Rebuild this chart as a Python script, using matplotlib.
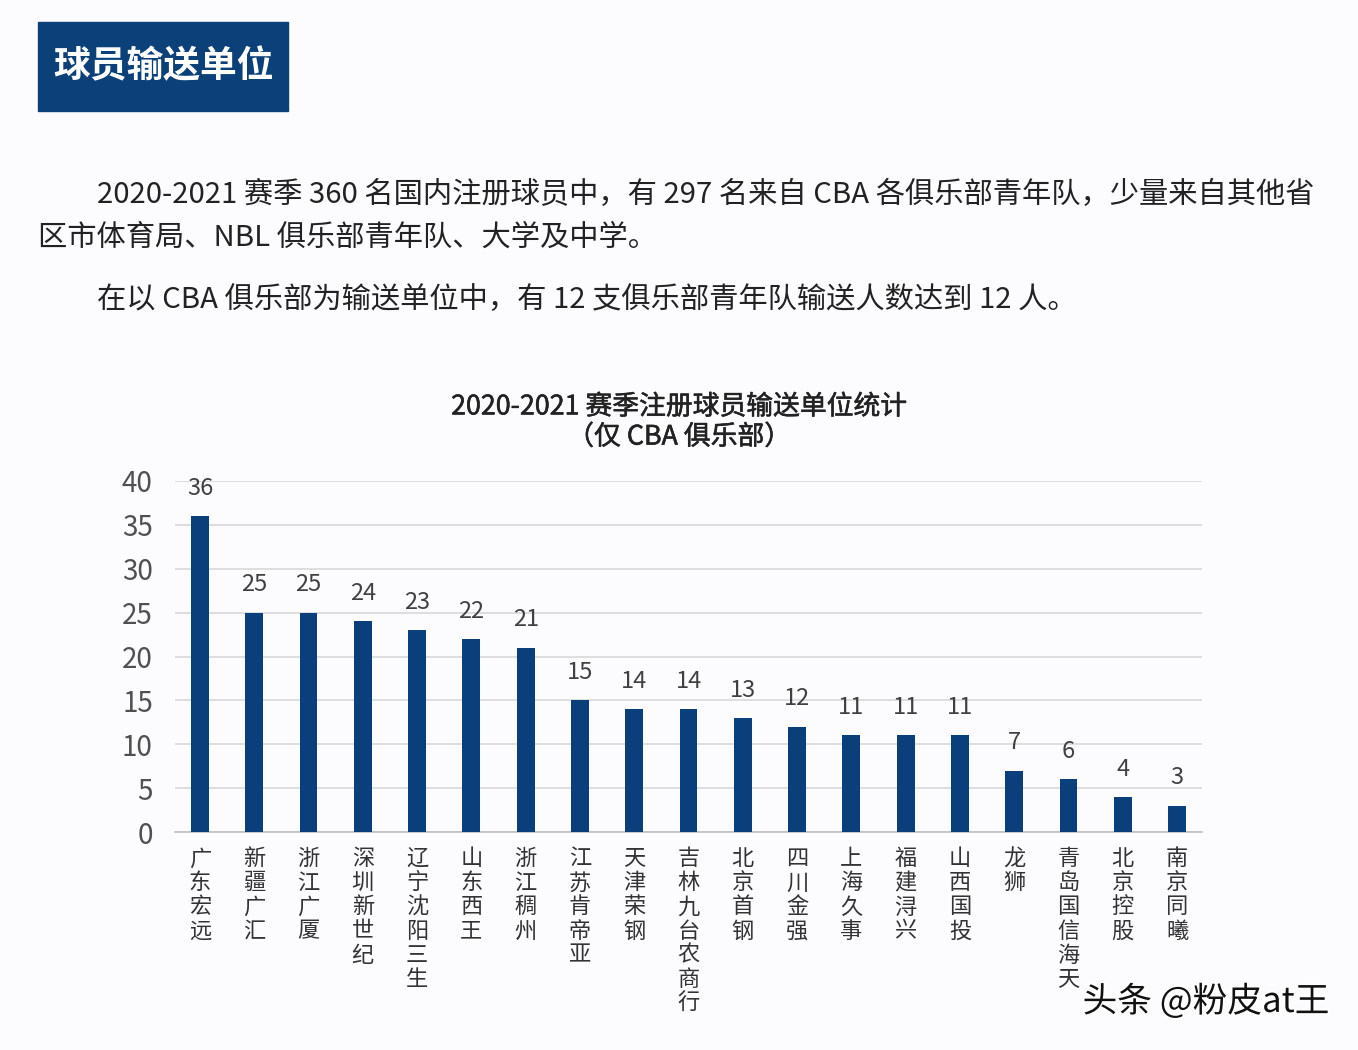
import matplotlib
matplotlib.use('Agg')
import matplotlib.pyplot as plt
import matplotlib.patheffects as pe
from matplotlib.patches import Rectangle

plt.rcParams['font.family'] = ['Noto Sans CJK SC', 'DejaVu Sans']

# 数据
clubs = ['广东宏远', '新疆广汇', '浙江广厦', '深圳新世纪', '辽宁沈阳三生', '山东西王',
         '浙江稠州', '江苏肯帝亚', '天津荣钢', '吉林九台农商行', '北京首钢', '四川金强',
         '上海久事', '福建浔兴', '山西国投', '龙狮', '青岛国信海天', '北京控股', '南京同曦']
players = [36, 25, 25, 24, 23, 22, 21, 15, 14, 14, 13, 12, 11, 11, 11, 7, 6, 4, 3]
y_ticks = [0, 5, 10, 15, 20, 25, 30, 35, 40]

header = '球员输送单位'
para1 = '2020-2021 赛季 360 名国内注册球员中，有 297 名来自 CBA 各俱乐部青年队，少量来自其他省'
para2 = '区市体育局、NBL 俱乐部青年队、大学及中学。'
para3 = '在以 CBA 俱乐部为输送单位中，有 12 支俱乐部青年队输送人数达到 12 人。'
chart_title = '2020-2021 赛季注册球员输送单位统计\n（仅 CBA 俱乐部）'
watermark = '头条 @粉皮at王'

bg = '#fcfcfe'
bar_color = '#0b3f7b'

fig = plt.figure(figsize=(13.58, 10.5), dpi=100, facecolor=bg)

# 标题框
fig.patches.append(Rectangle((38 / 1358, 1 - 111 / 1050), 250 / 1358, 89 / 1050,
                             transform=fig.transFigure, color='#0c4079', zorder=0))
fig.text(163 / 1358, 1 - 67 / 1050, header, color='white', fontsize=26.5,
         fontweight='bold', ha='center', va='center')

# 正文
fig.text(97 / 1358, 1 - 195 / 1050, para1, fontsize=21.1, color='#222222', va='center')
fig.text(38 / 1358, 1 - 238 / 1050, para2, fontsize=21.1, color='#222222', va='center')
fig.text(97 / 1358, 1 - 300 / 1050, para3, fontsize=21.1, color='#222222', va='center')

# 图表标题（中等粗细：常规字重加一点描边）
fig.text(679 / 1358, 1 - 422 / 1050, chart_title, fontsize=19.3, color='#222222',
         ha='center', va='center', linespacing=1.15,
         path_effects=[pe.withStroke(linewidth=0.4, foreground='#222222')])

ax = fig.add_axes([175 / 1358, (1050 - 832) / 1050, 1027 / 1358, 351 / 1050])
ax.set_facecolor(bg)
x = list(range(len(clubs)))
bars = ax.bar(x, players, width=0.33, color=bar_color, zorder=3)

for xi, v in zip(x, players):
    ax.annotate(str(v), (xi, v), xytext=(0, 20), textcoords='offset points',
                ha='center', va='center', fontsize=17, color='#404040',
                fontweight='light')

ax.set_xlim(-0.46, len(clubs) - 0.54)
ax.set_ylim(0, 40)
ax.set_yticks(y_ticks)
ax.yaxis.grid(True, color='#d9d9d9', linewidth=1.2, zorder=0)
ax.tick_params(axis='y', length=0, pad=16, labelsize=20, labelcolor='#505050')
ax.tick_params(axis='x', length=0)
ax.set_xticks(x)
ax.set_xticklabels(['\n'.join(c) for c in clubs], fontsize=16, color='#333333',
                   va='top', linespacing=1.06)
ax.tick_params(axis='x', pad=11)
for side in ['top', 'right', 'left']:
    ax.spines[side].set_visible(False)
ax.spines['bottom'].set_color('#bfbfbf')
ax.spines['bottom'].set_linewidth(1.2)

# 水印
fig.text(1206 / 1358, 1 - 1002 / 1050, watermark, fontsize=25, color='#111111',
         ha='center', va='center',
         path_effects=[pe.withStroke(linewidth=3, foreground='white')])

fig.savefig('out.png', dpi=100, facecolor=bg)
